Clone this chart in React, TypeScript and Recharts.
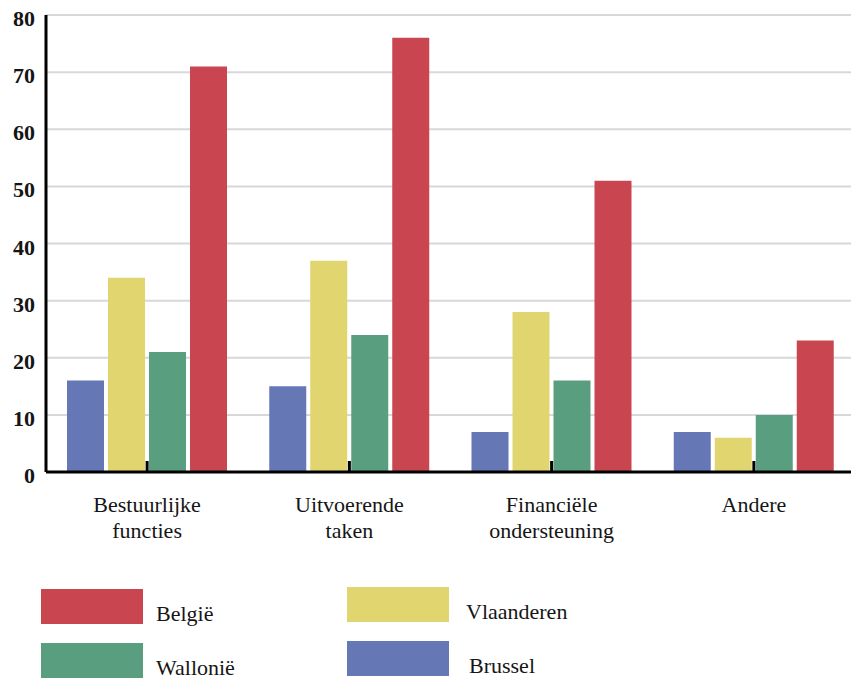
import { BarChart, Bar, XAxis, YAxis, CartesianGrid, Legend } from 'recharts'

const categories = ['Bestuurlijke functies', 'Uitvoerende taken', 'Financiële ondersteuning', 'Andere']
const brussel = [16, 15, 7, 7]
const vlaanderen = [34, 37, 28, 6]
const wallonie = [21, 24, 16, 10]
const belgie = [71, 76, 51, 23]
const yTicks = [0, 10, 20, 30, 40, 50, 60, 70, 80]

const series = [
  { key: 'brussel', name: 'Brussel', color: '#6677b6' },
  { key: 'vlaanderen', name: 'Vlaanderen', color: '#e0d56e' },
  { key: 'wallonie', name: 'Wallonië', color: '#5a9e80' },
  { key: 'belgie', name: 'België', color: '#c94651' },
]

// legend spots, as the reference places them (two by two)
const legendSpots: Record<string, { left: number; top: number; textLeft: number; baseline: number }> = {
  belgie: { left: 41, top: 589, textLeft: 156, baseline: 621 },
  vlaanderen: { left: 347, top: 587, textLeft: 466, baseline: 619 },
  wallonie: { left: 41, top: 643, textLeft: 156, baseline: 675 },
  brussel: { left: 347, top: 641, textLeft: 469, baseline: 673 },
}

const data = categories.map((c, i) => ({
  category: c,
  brussel: brussel[i],
  vlaanderen: vlaanderen[i],
  wallonie: wallonie[i],
  belgie: belgie[i],
}))

const FONT = '"Liberation Serif", "Times New Roman", serif'

function XTick({ x, y, payload }: any) {
  const lines = String(payload.value).split(' ')
  return (
    <g>
      <line x1={x} x2={x} y1={y - 11} y2={y} stroke="#000" strokeWidth={3} />
      {lines.map((l, i) => (
        <text key={i} x={x} y={y + 40 + i * 26} textAnchor="middle" fontFamily={FONT} fontSize={22} fill="#151515">
          {l}
        </text>
      ))}
    </g>
  )
}

function YTick({ x, y, payload }: any) {
  return (
    <text x={x} y={y + 11} textAnchor="end" fontFamily={FONT} fontSize={22} fontWeight="bold" fill="#151515">
      {payload.value}
    </text>
  )
}

function LegendBox() {
  return (
    <div style={{ position: 'absolute', left: 0, top: 0, width: 851, height: 680, pointerEvents: 'none' }}>
      {series.map((s) => {
        const p = legendSpots[s.key]
        return (
          <div key={s.key}>
            <div style={{ position: 'absolute', left: p.left, top: p.top, width: 102, height: 35, background: s.color }} />
            <div
              style={{
                position: 'absolute',
                left: p.textLeft,
                top: p.baseline - 20,
                fontFamily: FONT,
                fontSize: 22,
                lineHeight: '25px',
                color: '#151515',
                whiteSpace: 'nowrap',
              }}
            >
              {s.name}
            </div>
          </div>
        )
      })}
    </div>
  )
}

export default function App() {
  return (
    <div style={{ position: 'absolute', left: 0, top: 0, width: 851, height: 680, overflow: 'hidden', background: '#fff' }}>
      <BarChart
        width={860}
        height={680}
        data={data}
        margin={{ top: 15, right: 5, bottom: 148, left: 0 }}
        barSize={37}
        barGap={4}
      >
        <CartesianGrid vertical={false} stroke="#d8d8d8" strokeWidth={2} />
        <XAxis
          dataKey="category"
          height={60}
          interval={0}
          axisLine={{ stroke: '#000', strokeWidth: 3 }}
          tickLine={false}
          tickSize={0}
          tickMargin={0}
          tick={<XTick />}
        />
        <YAxis
          width={46}
          domain={[0, 80]}
          ticks={yTicks}
          axisLine={{ stroke: '#000', strokeWidth: 3 }}
          tickLine={false}
          tickSize={0}
          tickMargin={11}
          tick={<YTick />}
        />
        {series.map((s) => (
          <Bar key={s.key} dataKey={s.key} name={s.name} fill={s.color} isAnimationActive={false} />
        ))}
        <Legend verticalAlign="middle" align="center" layout="horizontal" wrapperStyle={{ left: 0, top: 0, width: 851, height: 680 }} content={<LegendBox />} />
      </BarChart>
    </div>
  )
}
